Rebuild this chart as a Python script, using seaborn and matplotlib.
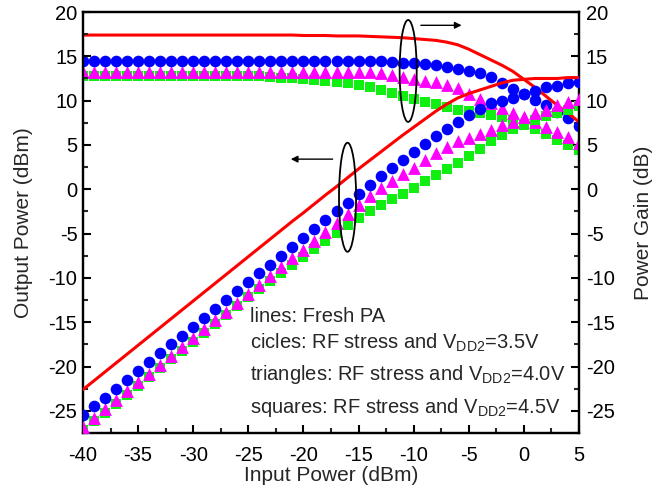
import numpy as np
import pandas as pd
import matplotlib
matplotlib.use("Agg")
import matplotlib.pyplot as plt
from matplotlib.patches import Ellipse
import seaborn as sns

# input power sweep (dBm)
pin = list(range(-40, 6))

# power gain (dB)
gain_fresh = [17.4] * 20 + [17.35, 17.35, 17.35, 17.3, 17.3, 17.3, 17.25, 17.2, 17.15, 17.1,
                            17.0, 16.9, 16.8, 16.6, 16.3, 15.8, 15.2, 14.6, 14.0, 13.3,
                            12.4, 11.5, 10.5, 9.5, 8.6, 7.6]
gain_35 = [14.5] * 28 + [14.4, 14.3, 14.2, 14.1, 14.0, 13.8, 13.6, 13.4, 13.1, 12.7,
                         12.0, 11.3, 10.7, 10.1, 9.5, 8.7, 8.0, 7.1]
gain_40 = [13.2] * 27 + [13.1, 12.9, 12.7, 12.4, 12.25, 12.1, 11.8, 11.4, 10.8, 10.2,
                         9.7, 9.2, 8.6, 8.1, 7.6, 7.0, 6.5, 5.9, 5.2]
gain_45 = [12.8] * 16 + [12.75, 12.7, 12.6, 12.5, 12.4, 12.3, 12.2, 12.1, 12.0, 11.8,
                         11.5, 11.2, 10.9, 10.5, 10.15, 9.9, 9.6, 9.3, 9.0, 8.8,
                         8.6, 8.4, 8.1, 7.8, 7.3, 6.8, 6.25, 5.6, 5.0, 4.4]

# output power (dBm)
pout_fresh = [-22.6, -21.6, -20.6, -19.6, -18.6, -17.6, -16.6, -15.6, -14.6, -13.6,
              -12.6, -11.6, -10.6, -9.6, -8.6, -7.6, -6.6, -5.6, -4.6, -3.6,
              -2.65, -1.65, -0.65, 0.3, 1.3, 2.3, 3.25, 4.2, 5.15, 6.1,
              7.0, 7.9, 8.8, 9.6, 10.3, 10.8, 11.2, 11.6, 12.0, 12.3,
              12.4, 12.5, 12.5, 12.5, 12.6, 12.6]
pout_35 = [-25.5, -24.5, -23.5, -22.5, -21.5, -20.5, -19.5, -18.5, -17.5, -16.5,
           -15.5, -14.5, -13.5, -12.5, -11.5, -10.5, -9.5, -8.5, -7.5, -6.5,
           -5.5, -4.5, -3.5, -2.5, -1.5, -0.5, 0.5, 1.5, 2.4, 3.3,
           4.2, 5.1, 6.0, 6.8, 7.6, 8.4, 9.1, 9.7, 10.0, 10.3,
           10.7, 11.1, 11.5, 11.7, 12.0, 12.1]
pout_40 = [-26.8, -25.8, -24.8, -23.8, -22.8, -21.8, -20.8, -19.8, -18.8, -17.8,
           -16.8, -15.8, -14.8, -13.8, -12.8, -11.8, -10.8, -9.8, -8.8, -7.8,
           -6.8, -5.8, -4.8, -3.8, -2.8, -1.8, -0.8, 0.1, 0.9, 1.7,
           2.4, 3.25, 4.1, 4.8, 5.4, 5.8, 6.2, 6.7, 7.2, 7.6,
           8.1, 8.6, 9.0, 9.5, 9.9, 10.2]
pout_45 = [-27.2, -26.2, -25.2, -24.2, -23.2, -22.2, -21.2, -20.2, -19.2, -18.2,
           -17.2, -16.2, -15.2, -14.2, -13.2, -12.2, -11.25, -10.3, -9.4, -8.5,
           -7.6, -6.7, -5.8, -4.9, -4.0, -3.2, -2.5, -1.8, -1.1, -0.5,
           0.15, 0.9, 1.6, 2.3, 3.0, 3.8, 4.6, 5.4, 6.1, 6.8,
           7.3, 7.8, 8.25, 8.6, 9.0, 9.4]

notes = ["lines: Fresh PA",
         r"cicles: RF stress and V$_{\mathregular{DD2}}$=3.5V",
         r"triangles: RF stress and V$_{\mathregular{DD2}}$=4.0V",
         r"squares: RF stress and V$_{\mathregular{DD2}}$=4.5V"]
note_y = [-14.4, -17.3, -20.9, -24.6]

sns.set_style("ticks")
plt.rcParams["font.family"] = ["Liberation Sans", "DejaVu Sans"]
plt.rcParams["mathtext.fontset"] = "custom"
plt.rcParams["mathtext.rm"] = "Liberation Sans"
plt.rcParams["axes.unicode_minus"] = False

df = pd.DataFrame({"pin": pin,
                   "g_fresh": gain_fresh, "g_35": gain_35, "g_40": gain_40, "g_45": gain_45,
                   "p_fresh": pout_fresh, "p_35": pout_35, "p_40": pout_40, "p_45": pout_45})

fig = plt.figure(figsize=(6.65, 4.9), dpi=100)
ax = fig.add_axes([0.1248, 0.1163, 0.7459, 0.8592])
ax2 = ax.twinx()

blue, magenta, green, red = "#0000ff", "#ff00ff", "#11ee11", "#ff0000"

# output power on left axis
sns.scatterplot(data=df, x="pin", y="p_45", ax=ax, marker="s", s=46, color=green, linewidth=0, zorder=2)
sns.scatterplot(data=df, x="pin", y="p_40", ax=ax, marker="^", s=85, color=magenta, linewidth=0, zorder=3)
sns.scatterplot(data=df, x="pin", y="p_35", ax=ax, marker="o", s=70, color=blue, linewidth=0, zorder=4)
sns.lineplot(data=df, x="pin", y="p_fresh", ax=ax, color=red, linewidth=2.2, zorder=5)

# power gain on right axis
sns.scatterplot(data=df, x="pin", y="g_45", ax=ax2, marker="s", s=46, color=green, linewidth=0, zorder=2)
sns.scatterplot(data=df, x="pin", y="g_40", ax=ax2, marker="^", s=85, color=magenta, linewidth=0, zorder=3)
sns.scatterplot(data=df, x="pin", y="g_35", ax=ax2, marker="o", s=70, color=blue, linewidth=0, zorder=4)
sns.lineplot(data=df, x="pin", y="g_fresh", ax=ax2, color=red, linewidth=2.2, zorder=5)

for a in (ax, ax2):
    a.set_xlim(-40, 5)
    a.set_ylim(-27.5, 20)
    a.set_yticks(np.arange(-25, 21, 5))
    a.set_yticks(np.arange(-27.5, 20.1, 2.5), minor=True)
    a.set_xticks(np.arange(-40, 6, 5))
    a.set_xticks(np.arange(-40, 5.1, 2.5), minor=True)
    a.tick_params(which="major", direction="in", length=6, width=1.5, labelsize=14.5, colors="black")
    a.tick_params(which="minor", direction="in", length=3.5, width=1.5)
    for sp in a.spines.values():
        sp.set_linewidth(1.6)
        sp.set_color("black")
        sp.set_visible(True)

ax.tick_params(axis="y", pad=4)
ax.tick_params(axis="x", pad=9)
ax2.tick_params(axis="y", pad=5)
ax.set_xlabel("Input Power (dBm)", fontsize=15, labelpad=1)
ax.set_ylabel("Output Power (dBm)", fontsize=15, labelpad=11)
ax2.set_ylabel("Power Gain (dB)", fontsize=15, labelpad=14)
ax2.set_xlabel("")

# ellipses and arrows marking which axis each group belongs to
ax.add_patch(Ellipse((-10.5, 13.35), 1.55, 11.5, fill=False, edgecolor="black", linewidth=1.3, zorder=6))
ax.annotate("", xy=(-5.4, 18.5), xytext=(-9.6, 18.5),
            arrowprops=dict(arrowstyle="-|>", color="black", lw=1, mutation_scale=10), zorder=6)
ax.add_patch(Ellipse((-16.0, -0.9), 1.55, 12.3, fill=False, edgecolor="black", linewidth=1.3, zorder=6))
ax.annotate("", xy=(-21.4, 3.4), xytext=(-17.1, 3.4),
            arrowprops=dict(arrowstyle="-|>", color="black", lw=1, mutation_scale=10), zorder=6)

for txt, y in zip(notes, note_y):
    ax.text(-24.85, y, txt, fontsize=14.5, va="center", ha="left", zorder=7)

ax.set_zorder(ax2.get_zorder() + 1)
ax.patch.set_visible(False)

fig.savefig("out.png", dpi=100)
